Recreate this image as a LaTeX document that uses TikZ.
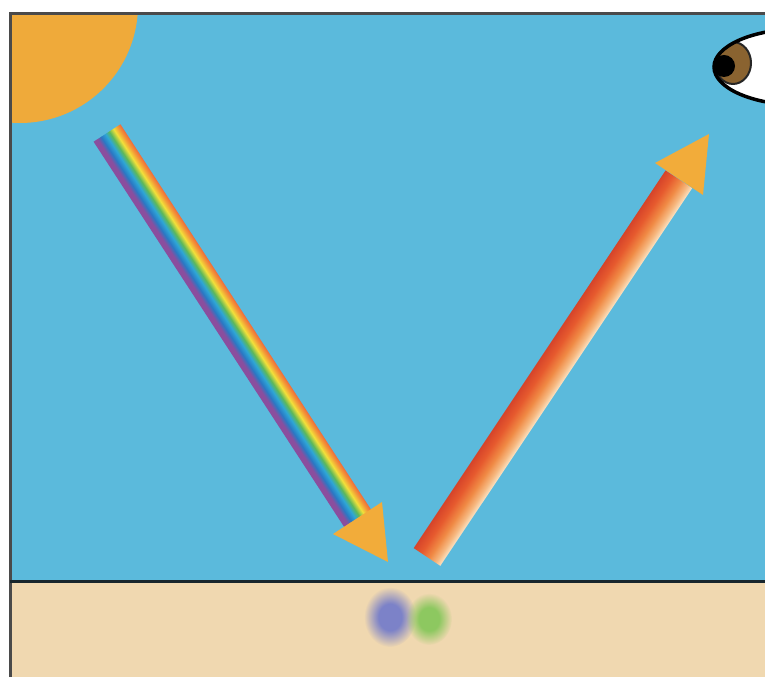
\documentclass[tikz,border=0pt]{standalone}
\usetikzlibrary{fadings}

% palette
\definecolor{sky}{HTML}{5BBADC}
\definecolor{sand}{HTML}{F0D8B0}
\definecolor{sun}{HTML}{EFAA3A}
\definecolor{tipcol}{HTML}{F2AC3A}
\definecolor{frame}{HTML}{4A4A4A}
\definecolor{groundline}{HTML}{18262C}
\definecolor{iris}{HTML}{8A6330}
\definecolor{dotblue}{HTML}{7C82C8}
\definecolor{dotgreen}{HTML}{8DC860}
% rainbow band
\definecolor{rbviolet}{HTML}{8A4E9E}
\definecolor{rbblue}{HTML}{2A78C4}
\definecolor{rbcyan}{HTML}{2EA6D6}
\definecolor{rbgreen}{HTML}{5DB85A}
\definecolor{rbyellow}{HTML}{F2E03A}
\definecolor{rborange}{HTML}{F39A38}
\definecolor{rbred}{HTML}{EE6A3A}
% reflected band
\definecolor{rfcream}{HTML}{FBE3C4}
\definecolor{rfpeach}{HTML}{F6B880}
\definecolor{rforange}{HTML}{F08A45}
\definecolor{rfred}{HTML}{E65A2E}
\definecolor{rfdark}{HTML}{D6442A}

% the middle 25bp..75bp of a shading covers the filled path
\pgfdeclareverticalshading{rainbowband}{100bp}{%
  color(0bp)=(rbviolet); color(25bp)=(rbviolet); color(32bp)=(rbviolet);
  color(39bp)=(rbblue); color(47bp)=(rbcyan); color(54bp)=(rbgreen);
  color(62bp)=(rbyellow); color(69bp)=(rborange); color(75bp)=(rbred);
  color(100bp)=(rbred)}
\pgfdeclareverticalshading{reflectband}{100bp}{%
  color(0bp)=(rfcream); color(25bp)=(rfcream); color(34bp)=(rfpeach);
  color(46bp)=(rforange); color(61bp)=(rfred); color(75bp)=(rfdark);
  color(100bp)=(rfdark)}

% soft-edged spot
\pgfdeclareradialshading{fuzzyshade}{\pgfpointorigin}{%
  color(0bp)=(white); color(11bp)=(white); color(25bp)=(black); color(50bp)=(black)}
\pgfdeclarefading{fuzzy}{\pgfuseshading{fuzzyshade}}

\tikzset{
  border/.style={draw=frame, line width=3pt},
  arrowtip/.style={fill=tipcol},
  spot/.style={path fading=fuzzy}
}

\begin{document}
\begin{tikzpicture}[x=1pt,y=1pt]
\useasboundingbox (0,0) rectangle (765,677);
\fill[white] (0,0) rectangle (765,677);

% sky and ground
\fill[sky] (10,95) rectangle (765,664);
\fill[sand] (10,0) rectangle (765,95);

\begin{scope}
  \clip (10,95) rectangle (765,664);
  % sun in the corner
  \fill[sun] (20,672) circle (118);
  % eye at the right edge
  \fill[white] (800,610) ellipse (86 and 38);
  \begin{scope}
    \clip (800,610) ellipse (86 and 38);
    \fill[iris, draw=black!85, line width=2pt] (733,614) ellipse (18 and 21);
    \fill[black] (724,611) circle (11);
  \end{scope}
  \draw[black, line width=3.5pt] (800,610) ellipse (86 and 38);
\end{scope}

% incoming white light
\begin{scope}[transform canvas={shift={(107,544)}, rotate=-56.96}]
  \shade[shading=rainbowband] (0,-16) rectangle (464,16);
\end{scope}
\coordinate (inTip) at (388,115);
\coordinate (inL) at (333,143);
\coordinate (inR) at (382,175);
\fill[arrowtip] (inL) -- (inTip) -- (inR) -- cycle;

% reflected light
\begin{scope}[transform canvas={shift={(427,120)}, rotate=56.3}]
  \shade[shading=reflectband] (0,-16) rectangle (454,16);
\end{scope}
\coordinate (outTip) at (709,543);
\coordinate (outL) at (655,514);
\coordinate (outR) at (703,482);
\fill[arrowtip] (outL) -- (outTip) -- (outR) -- cycle;

% absorbed colours in the surface
\fill[dotblue, spot] (390,60) ellipse (26 and 30);
\fill[dotgreen, spot] (429,58) ellipse (23 and 26);

% frame lines
\draw[border] (10,0) -- (10,663.5) -- (765,663.5);
\draw[groundline, line width=3pt] (10,95.5) -- (765,95.5);
\end{tikzpicture}
\end{document}
